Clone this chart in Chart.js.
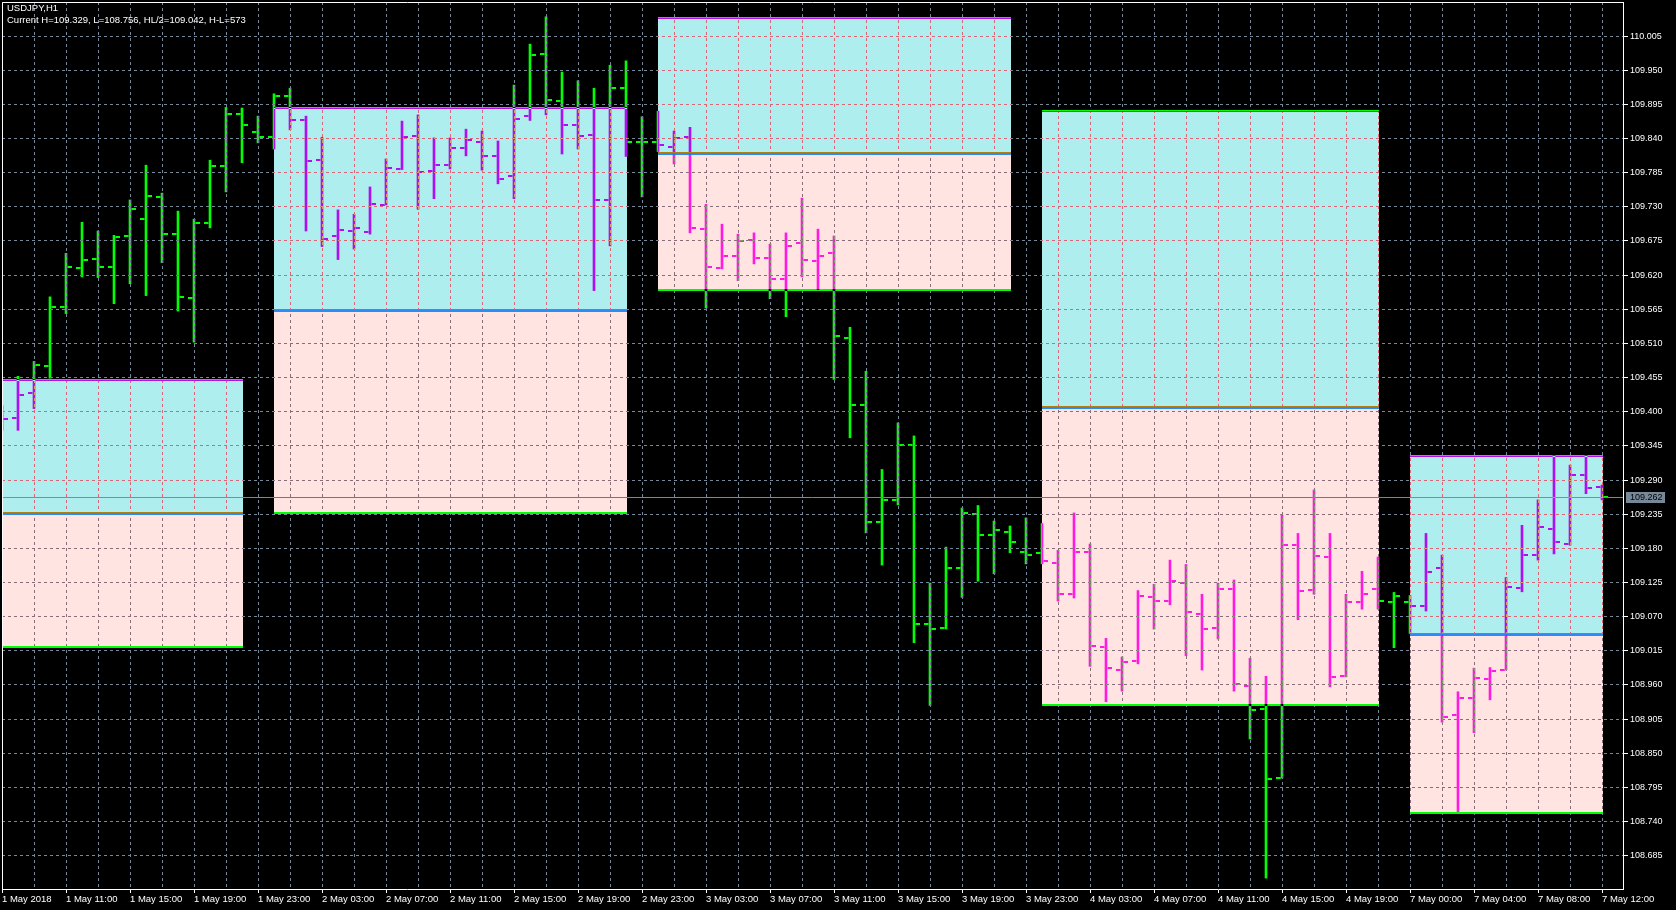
<!DOCTYPE html>
<html>
<head>
<meta charset="utf-8">
<script src="https://cdn.jsdelivr.net/npm/chart.js@4.4.1/dist/chart.umd.min.js"></script>
<style>
html,body{margin:0;padding:0;background:#000;overflow:hidden}
#wrap{position:relative;width:1676px;height:910px}
</style>
</head>
<body>
<div id="wrap"><canvas id="c"></canvas></div>
<script>
// ---------------- data ----------------
const symbolTitle = 'USDJPY,H1';
const infoLine = 'Current H=109.329, L=108.756, HL/2=109.042, H-L=573';

const xTickLabels = ['1 May 2018','1 May 11:00','1 May 15:00','1 May 19:00','1 May 23:00',
  '2 May 03:00','2 May 07:00','2 May 11:00','2 May 15:00','2 May 19:00','2 May 23:00',
  '3 May 03:00','3 May 07:00','3 May 11:00','3 May 15:00','3 May 19:00','3 May 23:00',
  '4 May 03:00','4 May 07:00','4 May 11:00','4 May 15:00','4 May 19:00',
  '7 May 00:00','7 May 04:00','7 May 08:00','7 May 12:00'];

const yTickLabels = ['110.005','109.950','109.895','109.840','109.785','109.730','109.675',
  '109.620','109.565','109.510','109.455','109.400','109.345','109.290','109.235','109.180',
  '109.125','109.070','109.015','108.960','108.905','108.850','108.795','108.740','108.685'];

const opens = [109.395,109.390,109.430,109.474,109.569,109.632,109.646,109.633,109.683,109.711,
  109.746,109.686,109.583,109.704,109.796,109.880,109.851,109.843,109.908,109.870,
  109.806,109.683,109.691,109.690,109.733,109.791,109.844,109.788,109.798,109.825,
  109.835,109.812,109.780,109.877,109.976,109.901,109.862,109.846,109.741,109.922,
  109.834,109.834,109.827,109.843,109.695,109.632,109.651,109.677,109.648,109.614,
  109.672,109.643,109.656,109.519,109.411,109.222,109.258,109.347,109.058,109.052,
  109.148,109.235,109.202,109.206,109.174,109.172,109.156,109.106,109.174,109.021,
  108.984,108.999,109.102,109.095,109.124,109.074,109.052,109.115,108.958,108.921,
  108.810,109.185,109.113,109.166,108.975,109.094,109.115,109.094,109.094,109.087,
  109.148,108.912,108.939,108.970,108.984,109.116,109.169,109.211,109.187,109.298,109.279];
const highs = [109.410,109.457,109.481,109.585,109.655,109.705,109.691,109.684,109.741,109.797,
  109.752,109.723,109.710,109.805,109.890,109.889,109.876,109.912,109.921,109.876,
  109.842,109.725,109.718,109.762,109.807,109.868,109.878,109.841,109.841,109.855,
  109.852,109.836,109.926,109.992,110.036,109.947,109.933,109.921,109.958,109.965,
  109.875,109.884,109.852,109.858,109.734,109.702,109.686,109.688,109.670,109.688,
  109.744,109.694,109.683,109.536,109.465,109.307,109.382,109.361,109.124,109.182,
  109.245,109.249,109.224,109.216,109.229,109.220,109.177,109.237,109.187,109.035,
  109.005,109.112,109.122,109.161,109.154,109.106,109.124,109.129,109.003,108.974,
  109.234,109.204,109.274,109.204,109.106,109.143,109.166,109.109,109.104,109.204,
  109.169,108.949,108.987,108.988,109.133,109.217,109.258,109.329,109.314,109.329,109.282];
const lows = [109.370,109.370,109.405,109.454,109.558,109.617,109.616,109.574,109.606,109.587,
  109.640,109.562,109.512,109.696,109.754,109.801,109.833,109.823,109.854,109.691,
  109.666,109.645,109.662,109.686,109.733,109.790,109.726,109.743,109.791,109.812,
  109.789,109.767,109.743,109.869,109.878,109.815,109.823,109.595,109.667,109.811,
  109.746,109.819,109.799,109.688,109.567,109.630,109.611,109.638,109.582,109.553,
  109.617,109.597,109.452,109.358,109.205,109.153,109.250,109.028,108.927,109.050,
  109.101,109.127,109.139,109.173,109.155,109.155,109.095,109.100,108.990,108.933,
  108.950,108.994,109.050,109.089,109.007,108.984,109.034,108.950,108.873,108.649,
  108.810,109.065,109.106,108.957,108.973,109.082,109.082,109.020,109.043,109.079,
  108.900,108.756,108.883,108.936,108.984,109.110,109.161,109.171,109.185,109.268,109.258];
const closes = [109.388,109.427,109.475,109.569,109.633,109.645,109.633,109.682,109.727,109.747,
  109.686,109.585,109.704,109.796,109.880,109.862,109.843,109.908,109.870,109.804,
  109.678,109.693,109.696,109.735,109.793,109.843,109.786,109.798,109.825,109.838,
  109.812,109.775,109.872,109.975,109.902,109.862,109.844,109.741,109.922,109.835,
  109.834,109.830,109.841,109.696,109.633,109.651,109.675,109.648,109.614,109.667,
  109.645,109.651,109.522,109.411,109.222,109.258,109.347,109.058,109.050,109.148,
  109.237,109.202,109.210,109.190,109.169,109.160,109.106,109.174,109.023,108.987,
  108.997,109.103,109.095,109.127,109.078,109.050,109.115,108.962,108.920,108.809,
  109.185,109.111,109.168,108.973,109.094,109.106,109.095,109.103,109.087,109.142,
  108.908,108.939,108.971,108.982,109.118,109.169,109.214,109.190,109.298,109.277,109.262];

// daily range boxes (bar index where each starts / ends, and its high / low)
const boxStart = [0, 17, 41, 65, 88];
const boxEnd   = [15, 39, 63, 86, 100];
const boxHigh  = [109.451, 109.889, 110.034, 109.884, 109.329];
const boxLow   = [109.023, 109.238, 109.598, 108.930, 108.756];

const currentPrice = 109.262;
const currentPriceLabel = '109.262';

// ---------------- style ----------------
const GREEN = '#00ff00';
const GRID = '#778899';
const GRID_ON_CYAN = '#d86677';
const GRID_ON_PINK = '#886c78';
const CYAN = '#afeeee';
const PINK = '#ffe4e1';
const DASH = [3, 3];
const FONT = 'Liberation Sans, Arial, sans-serif';

function tickImage(left) {
  const c = document.createElement('canvas');
  c.width = 14; c.height = 2;
  const g = c.getContext('2d');
  g.fillStyle = GREEN;
  g.fillRect(left ? 1 : 8, 0, 5, 2);
  return c;
}

const idx = opens.map((_, i) => i);

const mt4Plugin = {
  id: 'mt4',
  beforeDraw(chart) {
    const ctx = chart.ctx;
    ctx.save();
    ctx.fillStyle = '#000';
    ctx.fillRect(0, 0, chart.width, chart.height);
    ctx.restore();
  },
  beforeDatasetsDraw(chart) {
    const ctx = chart.ctx, xs = chart.scales.x, ys = chart.scales.y, a = chart.chartArea;
    const rects = [];
    ctx.save();
    for (let k = 0; k < boxStart.length; k++) {
      const xL = Math.round(xs.getPixelForValue(boxStart[k]));
      const xR = Math.round(xs.getPixelForValue(boxEnd[k])) + 1;
      const yH = Math.round(ys.getPixelForValue(boxHigh[k]));
      const yL = Math.round(ys.getPixelForValue(boxLow[k]));
      const yM = Math.round(ys.getPixelForValue((boxHigh[k] + boxLow[k]) / 2));
      ctx.fillStyle = CYAN; ctx.fillRect(xL, yH, xR - xL, yM - yH);
      ctx.fillStyle = PINK; ctx.fillRect(xL, yM, xR - xL, yL - yM);
      rects.push({xL, xR, yH, yM, yL});
    }
    // grid lines + price line re-drawn inside boxes in their xor colours
    const py = Math.round(ys.getPixelForValue(currentPrice)) + 0.5;
    const drawGrid = (color) => {
      ctx.strokeStyle = color; ctx.lineWidth = 1;
      ctx.setLineDash(DASH); ctx.lineDashOffset = 0;
      ctx.beginPath();
      xs.ticks.forEach(t => {
        const x = Math.round(xs.getPixelForValue(t.value) - 0.5) + 0.5;
        ctx.moveTo(x, a.top); ctx.lineTo(x, a.bottom);
      });
      ys.ticks.forEach(t => {
        const y = Math.round(ys.getPixelForValue(t.value) - 0.5) + 0.5;
        ctx.moveTo(a.left, y); ctx.lineTo(a.right, y);
      });
      ctx.stroke();
      ctx.setLineDash([]);
      ctx.beginPath(); ctx.moveTo(a.left, py); ctx.lineTo(a.right, py); ctx.stroke();
    };
    ctx.save();
    ctx.beginPath(); ctx.rect(a.left, a.top, a.right - a.left, a.bottom - a.top); ctx.clip();
    ctx.strokeStyle = GRID; ctx.lineWidth = 1;
    ctx.beginPath(); ctx.moveTo(a.left, py); ctx.lineTo(a.right, py); ctx.stroke();
    ctx.restore();
    rects.forEach(r => {
      ctx.save(); ctx.beginPath(); ctx.rect(r.xL, r.yH, r.xR - r.xL, r.yM - r.yH); ctx.clip();
      drawGrid(GRID_ON_CYAN); ctx.restore();
      ctx.save(); ctx.beginPath(); ctx.rect(r.xL, r.yM, r.xR - r.xL, r.yL - r.yM); ctx.clip();
      drawGrid(GRID_ON_PINK); ctx.restore();
    });
    // box edge lines
    rects.forEach(r => {
      const w = r.xR - r.xL;
      ctx.fillStyle = GREEN; ctx.fillRect(r.xL, r.yH - 1, w, 1);
      ctx.fillStyle = '#af11ee'; ctx.fillRect(r.xL, r.yH, w, 1);
      ctx.fillStyle = '#b17e11'; ctx.fillRect(r.xL, r.yM - 1, w, 1);
      ctx.fillStyle = '#2b8cf8'; ctx.fillRect(r.xL, r.yM, w, 2);
      ctx.fillStyle = GREEN; ctx.fillRect(r.xL, r.yL, w, 2);
    });
    ctx.restore();
    ctx.globalCompositeOperation = 'difference';
  },
  afterDatasetsDraw(chart) {
    chart.ctx.globalCompositeOperation = 'source-over';
  },
  afterDraw(chart) {
    const ctx = chart.ctx, ys = chart.scales.y, a = chart.chartArea;
    ctx.save();
    // chart frame (left and top)
    ctx.strokeStyle = '#ffffff'; ctx.lineWidth = 1;
    ctx.beginPath();
    ctx.moveTo(a.left + 0.5, a.bottom); ctx.lineTo(a.left + 0.5, a.top + 0.5); ctx.lineTo(a.right, a.top + 0.5);
    ctx.stroke();
    // current price tag
    const py = Math.round(ys.getPixelForValue(currentPrice));
    ctx.fillStyle = GRID;
    ctx.fillRect(a.right + 3, py - 5, 39, 11);
    ctx.fillStyle = '#000000';
    ctx.font = '9px ' + FONT;
    ctx.textBaseline = 'middle'; ctx.textAlign = 'left';
    ctx.fillText(currentPriceLabel, a.right + 7, py + 0.5);
    // header
    ctx.fillStyle = '#ffffff';
    ctx.font = '9.5px ' + FONT;
    ctx.fillText(symbolTitle, 7, 8.5);
    ctx.fillText(infoLine, 7, 20.5);
    ctx.restore();
  }
};

new Chart(document.getElementById('c'), {
  type: 'bar',
  data: {
    datasets: [
      { type: 'bar', label: 'range', data: idx.map(i => ({x: i, y: [lows[i], highs[i]]})),
        backgroundColor: GREEN, borderWidth: 0, barThickness: 2, borderSkipped: false },
      { type: 'scatter', label: 'open', data: idx.map(i => ({x: i, y: opens[i]})),
        pointStyle: tickImage(true), pointRadius: 3, pointHoverRadius: 3 },
      { type: 'scatter', label: 'close', data: idx.map(i => ({x: i, y: closes[i]})),
        pointStyle: tickImage(false), pointRadius: 3, pointHoverRadius: 3 }
    ]
  },
  options: {
    responsive: true, maintainAspectRatio: false, animation: false, events: [],
    devicePixelRatio: 1,
    layout: { autoPadding: false, padding: { left: 2, top: 2, right: 0, bottom: 0 } },
    plugins: { legend: { display: false }, tooltip: { enabled: false }, title: { display: false } },
    scales: {
      x: {
        type: 'linear', min: 0, max: 101.3125, offset: false,
        afterBuildTicks: s => { const t = []; for (let i = 0; i <= 100; i += 2) t.push({value: i}); s.ticks = t; },
        afterFit: s => { s.height = 21; },
        ticks: { autoSkip: false, maxRotation: 0, minRotation: 0, align: 'start', padding: 1,
          color: '#ffffff', font: { family: FONT, size: 9.5 },
          callback: (v) => (v % 4 === 0 ? xTickLabels[v / 4] : '') },
        grid: { offset: false, color: GRID, lineWidth: 1, drawTicks: true, tickLength: 4,
          tickColor: c => (c.tick && c.tick.value % 4 === 0) ? '#ffffff' : 'rgba(0,0,0,0)' },
        border: { display: true, color: '#ffffff', width: 1, dash: DASH }
      },
      y: {
        type: 'linear', position: 'right', min: 108.6314, max: 110.0598,
        afterBuildTicks: s => { s.ticks = yTickLabels.map(t => ({value: parseFloat(t)})); },
        afterFit: s => { s.width = 53; },
        ticks: { autoSkip: false, padding: 2, crossAlign: 'near', color: '#ffffff',
          font: { family: FONT, size: 9, lineHeight: 0 },
          callback: (v, i) => yTickLabels[i] },
        grid: { color: GRID, lineWidth: 1, drawTicks: true, tickLength: 5, tickColor: '#ffffff' },
        border: { display: true, color: '#ffffff', width: 1, dash: DASH }
      }
    }
  },
  plugins: [mt4Plugin]
});
</script>
</body>
</html>
